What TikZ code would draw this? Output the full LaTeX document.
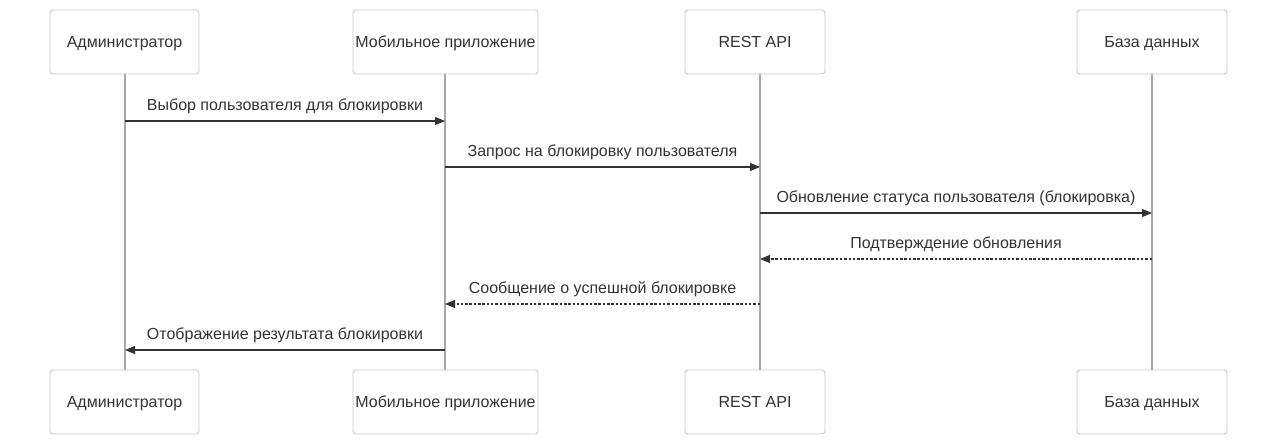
\documentclass[tikz,border=0pt]{standalone}
\usepackage{fontspec}
\setmainfont{Liberation Sans}
\usetikzlibrary{arrows.meta}
\definecolor{boxline}{HTML}{C8C8C8}
\definecolor{lifeline}{HTML}{A8A8A8}
\definecolor{msgline}{HTML}{333333}
\definecolor{txt}{HTML}{333333}
\begin{document}
\begin{tikzpicture}[x=1pt,y=-1pt,
  actor/.style={draw=boxline,line width=0.9pt,rounded corners=3pt,fill=white,minimum height=64pt,inner sep=0pt,text height=11.5pt,text depth=0pt,font=\fontsize{16}{19}\selectfont,text=txt},
  life/.style={draw=lifeline,line width=1.3pt},
  msg/.style={draw=msgline,line width=1.1pt,-{Triangle[length=10pt,width=8pt]}},
  reply/.style={msg,dash pattern=on 2.5pt off 1.8pt},
  lbl/.style={font=\fontsize{16}{19}\selectfont,text=txt,inner sep=0pt,anchor=base,yshift=11pt}]
\useasboundingbox (0,0) rectangle (1280,447);
\node[actor,minimum width=149pt] (a1) at (124.5,42) {Администратор};
\node[actor,minimum width=185pt] (m1) at (445.5,42) {Мобильное приложение};
\node[actor,minimum width=140pt] (r1) at (755,42) {REST API};
\node[actor,minimum width=150pt] (d1) at (1152,42) {База данных};
\node[actor,minimum width=149pt] (a2) at (124.5,402) {Администратор};
\node[actor,minimum width=185pt] (m2) at (445.5,402) {Мобильное приложение};
\node[actor,minimum width=140pt] (r2) at (755,402) {REST API};
\node[actor,minimum width=150pt] (d2) at (1152,402) {База данных};
\coordinate (la) at (125,0); \coordinate (lm) at (445,0);
\coordinate (lr) at (760,0); \coordinate (ld) at (1152,0);
\draw[life] (la |- a1.south) -- (la |- a2.north);
\draw[life] (lm |- m1.south) -- (lm |- m2.north);
\draw[life] (lr |- r1.south) -- (lr |- r2.north);
\draw[life] (ld |- d1.south) -- (ld |- d2.north);
% messages
\coordinate (y1) at (0,121); \coordinate (y2) at (0,167); \coordinate (y3) at (0,213);
\coordinate (y4) at (0,259); \coordinate (y5) at (0,304); \coordinate (y6) at (0,350);
\draw[msg] (la |- y1) -- node[lbl] (t1) {Выбор пользователя для блокировки} (lm |- y1);
\draw[msg] (lm |- y2) -- node[lbl] (t2) {Запрос на блокировку пользователя} (lr |- y2);
\draw[msg] (lr |- y3) -- node[lbl] (t3) {Обновление статуса пользователя (блокировка)} (ld |- y3);
\draw[reply] (ld |- y4) -- node[lbl] (t4) {Подтверждение обновления} (lr |- y4);
\draw[reply] (lr |- y5) -- node[lbl] (t5) {Сообщение о успешной блокировке} (lm |- y5);
\draw[msg] (lm |- y6) -- node[lbl] (t6) {Отображение результата блокировки} (la |- y6);
\end{tikzpicture}
\end{document}
